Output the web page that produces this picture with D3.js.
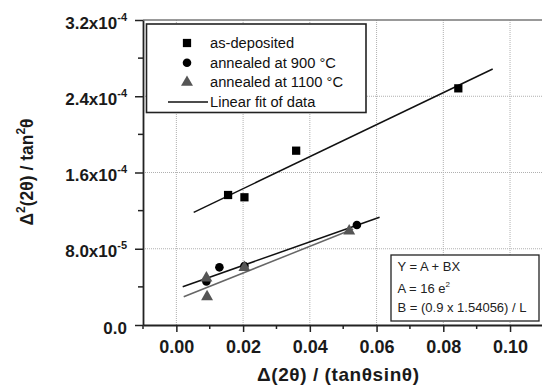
<!DOCTYPE html>
<html>
<head>
<meta charset="utf-8">
<script src="https://cdn.jsdelivr.net/npm/d3@7"></script>
<style>
  body { margin: 0; background: #fff; }
  svg { font-family: "Liberation Sans", Arial, sans-serif; }
</style>
</head>
<body>
<svg id="chart" width="542" height="387"></svg>
<script>
// data: [x, y]
var asDeposited = [[0.0155, 1.364e-4], [0.0204, 1.340e-4], [0.0359, 1.829e-4], [0.0845, 2.483e-4]];
var annealed900 = [[0.0090, 4.56e-5], [0.0129, 6.05e-5], [0.0204, 6.19e-5], [0.0541, 1.049e-4]];
var annealed1100 = [[0.0090, 4.93e-5], [0.0092, 2.97e-5], [0.0204, 6.03e-5], [0.0518, 9.86e-5]];

// fitted line end points
var fitDeposited = [[0.0052, 1.182e-4], [0.0948, 2.686e-4]];
var fit900 = [[0.0019, 4.02e-5], [0.0609, 1.130e-4]];
var fit1100 = [[0.0022, 2.97e-5], [0.0530, 1.007e-4]];

var xTicks = [0, 0.02, 0.04, 0.06, 0.08, 0.10];
var xMinor = [-0.01, 0.01, 0.03, 0.05, 0.07, 0.09];
var yTicks = [0, 8e-5, 1.6e-4, 2.4e-4, 3.2e-4];
var yMinor = [4e-5, 1.2e-4, 2.0e-4, 2.8e-4];
var yLabels = [['0.0', ''], ['8.0x10', '-5'], ['1.6x10', '-4'], ['2.4x10', '-4'], ['3.2x10', '-4']];

var legendNames = ['as-deposited', 'annealed at 900 °C', 'annealed at 1100 °C', 'Linear fit of data'];

var plotLeft = 143, plotRight = 543.4, plotTop = 20, plotBottom = 325;

var svg = d3.select('#chart');

var x = d3.scaleLinear().domain([-0.01, 0.11]).range([plotLeft, plotRight]);
var y = d3.scaleLinear().domain([0, 3.2e-4]).range([plotBottom, plotTop]);

// grid
svg.append('g')
  .selectAll('line')
  .data(xTicks)
  .enter()
  .append('line')
  .attr('x1', function(d) { return x(d); })
  .attr('x2', function(d) { return x(d); })
  .attr('y1', plotTop)
  .attr('y2', plotBottom)
  .attr('stroke', '#b0b0b0')
  .attr('stroke-dasharray', '1,1');
svg.append('g')
  .selectAll('line')
  .data(yTicks.slice(1, 4))
  .enter()
  .append('line')
  .attr('x1', plotLeft)
  .attr('x2', plotRight)
  .attr('y1', function(d) { return y(d); })
  .attr('y2', function(d) { return y(d); })
  .attr('stroke', '#b0b0b0')
  .attr('stroke-dasharray', '1,1');

// top frame
svg.append('line')
  .attr('x1', plotLeft).attr('x2', plotRight)
  .attr('y1', plotTop).attr('y2', plotTop)
  .attr('stroke', '#777')
  .attr('stroke-width', 1.5);

// axes
var xAxis = svg.append('g')
  .attr('transform', 'translate(0,' + plotBottom + ')')
  .call(d3.axisBottom(x).tickValues(xTicks).tickSize(7).tickSizeOuter(0)
    .tickFormat(function(d) { return d3.format('.2f')(d); }));
xAxis.append('g')
  .selectAll('line')
  .data(xMinor)
  .enter()
  .append('line')
  .attr('x1', function(d) { return x(d); })
  .attr('x2', function(d) { return x(d); })
  .attr('y2', 4)
  .attr('stroke', '#222')
  .attr('stroke-width', 1.5);
xAxis.select('.domain').attr('stroke', '#222').attr('stroke-width', 1.8);
xAxis.selectAll('.tick line').attr('stroke', '#222').attr('stroke-width', 1.5);
xAxis.selectAll('.tick text')
  .attr('y', 28)
  .attr('dy', 0)
  .attr('fill', '#1a1a1a')
  .attr('font-size', '18px')
  .attr('font-weight', 'bold')
  .attr('font-family', '"Liberation Sans", Arial, sans-serif');

var yAxis = svg.append('g')
  .attr('transform', 'translate(' + plotLeft + ',0)')
  .call(d3.axisLeft(y).tickValues(yTicks).tickSize(8).tickSizeOuter(0).tickFormat(''));
yAxis.append('g')
  .selectAll('line')
  .data(yMinor)
  .enter()
  .append('line')
  .attr('y1', function(d) { return y(d); })
  .attr('y2', function(d) { return y(d); })
  .attr('x2', -5)
  .attr('stroke', '#222')
  .attr('stroke-width', 1.5);
yAxis.select('.domain').attr('stroke', '#222').attr('stroke-width', 1.8);
yAxis.selectAll('.tick line').attr('stroke', '#222').attr('stroke-width', 1.5);
yAxis.selectAll('.tick text').remove();
yAxis.selectAll('.tick')
  .data(yLabels)
  .append('text')
  .attr('x', -16)
  .attr('y', 8)
  .attr('text-anchor', 'end')
  .attr('fill', '#1a1a1a')
  .attr('font-size', '17px')
  .attr('font-weight', 'bold')
  .attr('font-family', '"Liberation Sans", Arial, sans-serif')
  .each(function(d) {
    var t = d3.select(this);
    t.append('tspan').text(d[0]);
    if (d[1]) {
      t.append('tspan').attr('dy', -8).attr('font-size', '11px').text(d[1]);
    }
  });

// fit lines
var line = d3.line()
  .x(function(d) { return x(d[0]); })
  .y(function(d) { return y(d[1]); });
svg.append('path').datum(fitDeposited).attr('d', line)
  .attr('fill', 'none').attr('stroke', '#111').attr('stroke-width', 1.5);
svg.append('path').datum(fit900).attr('d', line)
  .attr('fill', 'none').attr('stroke', '#111').attr('stroke-width', 1.5);
svg.append('path').datum(fit1100).attr('d', line)
  .attr('fill', 'none').attr('stroke', '#666').attr('stroke-width', 1.5);

// points
function drawPoints(data, type, size, color) {
  svg.append('g')
    .selectAll('path')
    .data(data)
    .enter()
    .append('path')
    .attr('d', d3.symbol().type(type).size(size))
    .attr('transform', function(d) { return 'translate(' + x(d[0]) + ',' + y(d[1]) + ')'; })
    .attr('fill', color);
}
drawPoints(asDeposited, d3.symbolSquare, 68, '#000');
drawPoints(annealed900, d3.symbolCircle, 58, '#000');
drawPoints(annealed1100, d3.symbolTriangle, 62, '#555');

// legend
var legend = svg.append('g');
legend.append('rect')
  .attr('x', 146.5).attr('y', 24)
  .attr('width', 219.5).attr('height', 88.5)
  .attr('fill', '#fff')
  .attr('stroke', '#222')
  .attr('stroke-width', 1.6);
var legendTypes = [d3.symbolSquare, d3.symbolCircle, d3.symbolTriangle];
var legendSizes = [68, 58, 62];
var legendColors = ['#000', '#000', '#555'];
var rows = legend.selectAll('g.row')
  .data(legendNames)
  .enter()
  .append('g')
  .attr('class', 'row')
  .attr('transform', function(d, i) { return 'translate(0,' + (43 + i * 19.7) + ')'; });
rows.filter(function(d, i) { return i < 3; })
  .append('path')
  .attr('d', function(d, i) { return d3.symbol().type(legendTypes[i]).size(legendSizes[i])(); })
  .attr('transform', 'translate(187,0)')
  .attr('fill', function(d, i) { return legendColors[i]; });
rows.filter(function(d, i) { return i === 3; })
  .append('line')
  .attr('x1', 168).attr('x2', 208)
  .attr('stroke', '#111').attr('stroke-width', 1.5);
rows.append('text')
  .attr('x', 210)
  .attr('y', 5)
  .attr('font-size', '14.7px')
  .attr('fill', '#111')
  .text(function(d) { return d; });

// equation box
var eq = svg.append('g');
eq.append('rect')
  .attr('x', 391).attr('y', 255)
  .attr('width', 148).attr('height', 66)
  .attr('fill', '#fff')
  .attr('stroke', '#222')
  .attr('stroke-width', 1.3);
eq.append('text').attr('x', 397.5).attr('y', 271).attr('font-size', '13px').attr('fill', '#222')
  .text('Y = A + BX');
var eq2 = eq.append('text').attr('x', 397.5).attr('y', 292.5).attr('font-size', '13px').attr('fill', '#222');
eq2.append('tspan').text('A = 16 e');
eq2.append('tspan').attr('dy', -6).attr('font-size', '8px').text('2');
eq.append('text').attr('x', 397.5).attr('y', 311.5).attr('font-size', '13px').attr('fill', '#222')
  .text('B = (0.9 x 1.54056) / L');

// axis titles
svg.append('text')
  .attr('x', 338)
  .attr('y', 381)
  .attr('text-anchor', 'middle')
  .attr('font-size', '19px')
  .attr('font-weight', 'bold')
  .attr('fill', '#1a1a1a')
  .attr('textLength', 162)
  .attr('lengthAdjust', 'spacing')
  .text('Δ(2θ) / (tanθsinθ)');

var yt = svg.append('text')
  .attr('transform', 'translate(33,172) rotate(-90)')
  .attr('text-anchor', 'middle')
  .attr('font-size', '17.5px')
  .attr('font-weight', 'bold')
  .attr('fill', '#1a1a1a');
yt.append('tspan').text('Δ');
yt.append('tspan').attr('dy', -8).attr('font-size', '12px').text('2');
yt.append('tspan').attr('dy', 8).text('(2θ) / tan');
yt.append('tspan').attr('dy', -8).attr('font-size', '12px').text('2');
yt.append('tspan').attr('dy', 8).text('θ');
</script>
</body>
</html>
